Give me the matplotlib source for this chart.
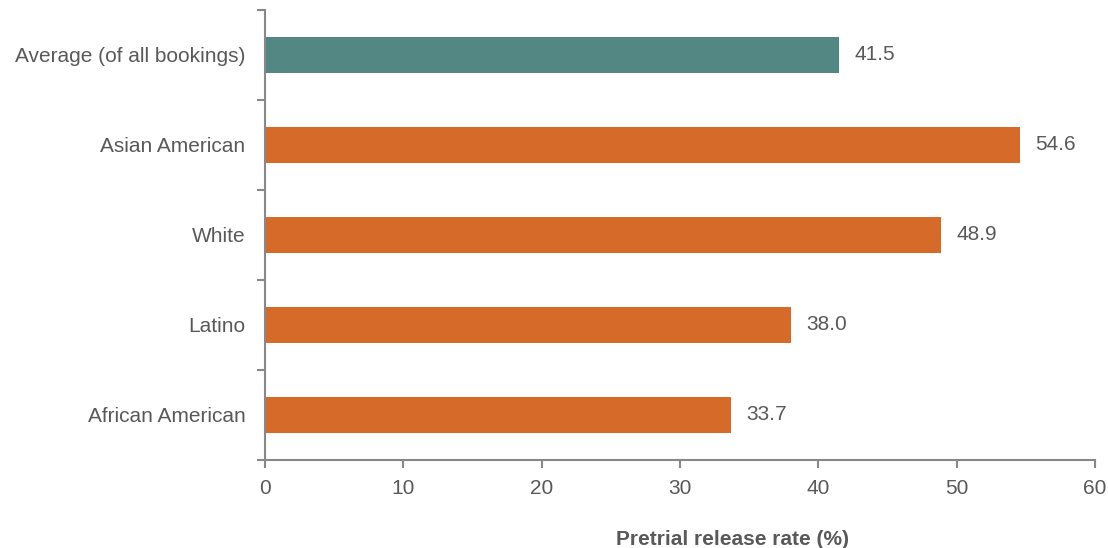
import numpy as np
import matplotlib.pyplot as plt

plt.rcParams['font.family'] = ['Liberation Sans', 'DejaVu Sans']

categories = ["Average (of all bookings)", "Asian American", "White", "Latino", "African American"]
rates = [41.5, 54.6, 48.9, 38.0, 33.7]
colors = ["#528784", "#D66A28", "#D66A28", "#D66A28", "#D66A28"]
xticks = [0, 10, 20, 30, 40, 50, 60]

text_color = "#595959"
axis_color = "#888888"
fs = 15

fig = plt.figure(figsize=(11.08, 5.48), dpi=100)
ax = fig.add_axes([265 / 1108, 1 - 460 / 548, 830 / 1108, 450 / 548])

y = np.arange(len(categories))
ax.barh(y, rates, height=0.4, color=colors)

for yi, v in zip(y, rates):
    ax.text(v + 1.1, yi, f"{v:.1f}", va="center", ha="left", fontsize=fs, color=text_color)

ax.set_xlim(0, 60)
ax.set_ylim(len(categories) - 0.5, -0.5)
ax.set_xticks(xticks)
ax.set_xticklabels([str(t) for t in xticks], fontsize=fs, color=text_color)

# category labels centred on bars, ticks on the boundaries
ax.set_yticks(np.arange(-0.5, len(categories)), minor=False)
ax.set_yticklabels([])
ax.set_yticks(y, minor=True)
ax.set_yticklabels(categories, minor=True, fontsize=fs, color=text_color)
ax.tick_params(axis="y", which="minor", length=0, pad=14)
ax.tick_params(axis="y", which="major", length=6, width=1.5, color=axis_color)
ax.tick_params(axis="x", length=6, width=1.5, color=axis_color, pad=8)

for s in ["top", "right"]:
    ax.spines[s].set_visible(False)
for s in ["left", "bottom"]:
    ax.spines[s].set_color(axis_color)
    ax.spines[s].set_linewidth(1.5)

ax.set_xlabel("Pretrial release rate (%)", fontsize=fs, fontweight="bold", color=text_color)
ax.xaxis.set_label_coords(0.563, -0.155)

fig.savefig("out.png", dpi=100)
